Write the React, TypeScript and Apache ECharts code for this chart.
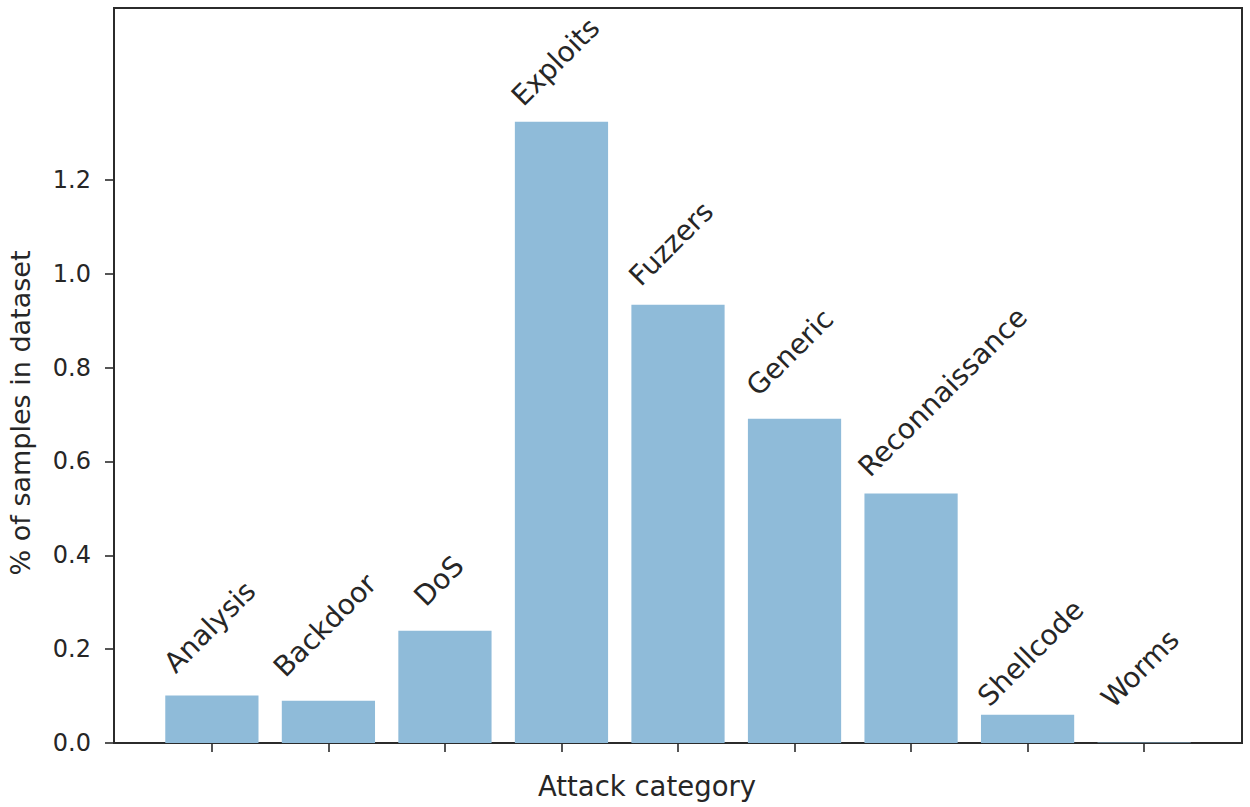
import React, { useEffect, useRef } from "react";
import * as echarts from "echarts";

const categories = ["Analysis", "Backdoor", "DoS", "Exploits", "Fuzzers", "Generic", "Reconnaissance", "Shellcode", "Worms"];
const values = [0.101, 0.09, 0.239, 1.324, 0.934, 0.691, 0.532, 0.06, 0.001];
const yTicks = [0, 0.2, 0.4, 0.6, 0.8, 1.0, 1.2];
const xTitle = "Attack category";
const yTitle = "% of samples in dataset";

// label placement: screen-pixel shift from the top-centre of each bar
const labelOffsets: [number, number][] = [
  [-33, -18], [-40, -19], [-16, -20], [-35, -11], [-34, -14], [-33, -18], [-38, -12], [-35, -4], [-28, -30],
];

const FONT = "DejaVu Sans";
const TEXT = "#262626";
const ROT = 45;

// label offsets are applied in the rotated frame, so convert screen shifts
function toLocal([dx, dy]: [number, number]): [number, number] {
  const t = (ROT * Math.PI) / 180;
  const c = Math.cos(t), s = Math.sin(t);
  return [dx * c - dy * s, dx * s + dy * c];
}

export default function App() {
  const ref = useRef<HTMLDivElement>(null);
  useEffect(() => {
    if (!ref.current) return;
    const chart = echarts.init(ref.current, undefined, { renderer: "svg" });
    const data = categories.map((name, i) => ({
      value: [i, values[i]],
      name,
      label: { offset: toLocal(labelOffsets[i]) },
    }));
    chart.setOption({
      animation: false,
      backgroundColor: "#ffffff",
      grid: {
        left: 114, right: 8, top: 8, bottom: 64,
        show: true, borderColor: "#2b2b2b", borderWidth: 2, backgroundColor: "transparent",
      },
      xAxis: {
        type: "value",
        min: -0.84,
        max: categories.length - 1 + 0.84,
        axisLine: { show: false, onZero: false },
        splitLine: { show: false },
        axisTick: {
          show: true, length: 9, inside: false,
          lineStyle: { color: "#2b2b2b", width: 1.6 },
          customValues: categories.map((_, i) => i),
        },
        axisLabel: { show: false },
      },
      yAxis: {
        type: "value",
        min: 0,
        max: 1.5665,
        axisLine: { show: false, onZero: false },
        splitLine: { show: false },
        axisTick: {
          show: true, length: 9, inside: false,
          lineStyle: { color: "#2b2b2b", width: 1.6 },
          customValues: yTicks,
        },
        axisLabel: {
          show: true, margin: 23, fontSize: 24, fontFamily: FONT, color: TEXT,
          customValues: yTicks,
          formatter: (v: number) => v.toFixed(1),
        },
      },
      graphic: [
        {
          type: "text",
          x: 647, y: 786,
          style: { text: xTitle, fontSize: 27.5, fontFamily: FONT, fill: TEXT, textAlign: "center", textVerticalAlign: "middle" },
        },
        {
          type: "text",
          x: 20, y: 413, rotation: Math.PI / 2,
          style: { text: yTitle, fontSize: 27, fontFamily: FONT, fill: TEXT, textAlign: "center", textVerticalAlign: "middle" },
        },
      ],
      series: [
        {
          type: "bar",
          data,
          barWidth: "80%",
          itemStyle: { color: "#8fbbd9" },
          label: {
            show: true,
            position: "top",
            distance: 0,
            rotate: ROT,
            align: "left",
            verticalAlign: "bottom",
            fontSize: 28,
            fontFamily: FONT,
            color: TEXT,
            formatter: (p: any) => p.name,
          },
        },
      ],
    });
    return () => chart.dispose();
  }, []);
  return <div ref={ref} style={{ position: "fixed", left: 0, top: 0, width: 1250, height: 807 }} />;
}
